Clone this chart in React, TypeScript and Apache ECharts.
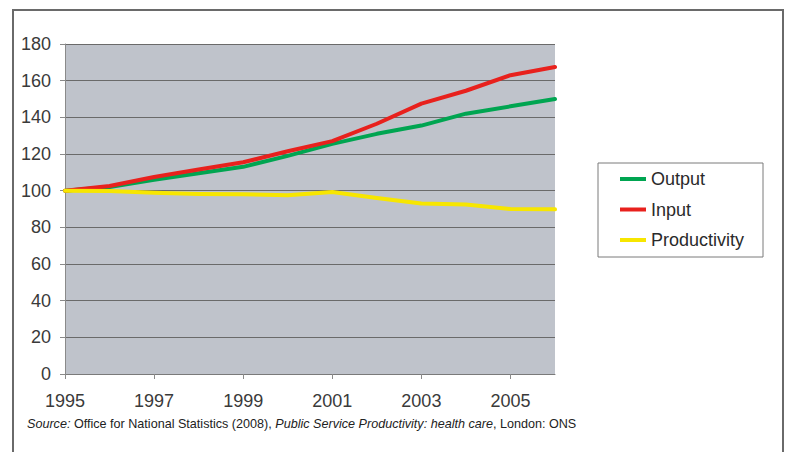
import React, { useEffect, useRef } from "react";
import * as echarts from "echarts";

const years = ["1995", "1996", "1997", "1998", "1999", "2000", "2001", "2002", "2003", "2004", "2005", "2006"];
const outputIndex = [100, 102, 106, 109.5, 113, 119, 125.5, 131, 135.5, 142, 146, 150];
const inputIndex = [100, 102.5, 107.5, 111.5, 115.5, 121.5, 127, 136.5, 147.5, 154.5, 163, 167.5];
const productivityIndex = [100, 99.8, 98.8, 98.2, 98, 97.5, 99.3, 96, 93, 92.4, 90, 89.8];

const FONT = "'Liberation Sans', Arial, sans-serif";

export default function App() {
  const ref = useRef<HTMLDivElement>(null);

  useEffect(() => {
    if (!ref.current) return;
    const chart = echarts.init(ref.current, undefined, { renderer: "svg" });
    const line = (name: string, data: number[], color: string) => ({
      name,
      type: "line",
      data,
      symbol: "none",
      lineStyle: { color, width: 4, cap: "round", join: "round" },
      itemStyle: { color },
    });
    chart.setOption({
      animation: false,
      backgroundColor: "#ffffff",
      textStyle: { fontFamily: FONT },
      grid: {
        left: 65,
        top: 44,
        right: 234,
        bottom: 78,
        show: true,
        backgroundColor: "#bfc3cb",
        borderWidth: 0,
      },
      xAxis: {
        type: "category",
        data: years,
        boundaryGap: false,
        axisLine: { show: true, lineStyle: { color: "#7a7a7a", width: 1 } },
        axisTick: { show: true, interval: 1, length: 5, lineStyle: { color: "#8a8a8a" } },
        axisLabel: { interval: 1, fontSize: 18, color: "#3a3a3a", margin: 18, fontFamily: FONT },
        splitLine: { show: false },
      },
      yAxis: {
        type: "value",
        min: 0,
        max: 180,
        interval: 20,
        axisLine: { show: true, lineStyle: { color: "#8a8a8a", width: 1 } },
        axisTick: { show: true, length: 5, lineStyle: { color: "#8a8a8a" } },
        axisLabel: { fontSize: 18, color: "#3a3a3a", margin: 14, fontFamily: FONT },
        splitLine: { show: true, lineStyle: { color: "#6a6a6a", width: 1 } },
      },
      legend: {
        orient: "vertical",
        left: 620,
        top: 170,
        padding: 0,
        icon: "rect",
        itemWidth: 26,
        itemHeight: 4,
        itemGap: 12.5,
        textStyle: { fontSize: 18, color: "#2a2a2a", fontFamily: FONT },
        data: ["Output", "Input", "Productivity"],
      },
      graphic: [
        {
          type: "rect",
          shape: { x: 598, y: 163, width: 165, height: 94 },
          style: { fill: "none", stroke: "#7a7a7a", lineWidth: 1 },
          z: 0,
        },
        {
          type: "rect",
          shape: { x: 13, y: 10, width: 770, height: 470 },
          style: { fill: "none", stroke: "#6a6a6a", lineWidth: 2 },
        },
        {
          type: "text",
          x: 27,
          y: 424,
          style: {
            text: "{i|Source:} Office for National Statistics (2008), {i|Public Service Productivity: health care}, London: ONS",
            font: `12.6px ${FONT}`,
            fill: "#222",
            verticalAlign: "middle",
            rich: {
              i: { fontStyle: "italic", fontSize: 12.6, fontFamily: FONT, fill: "#222" },
            },
          },
        },
      ],
      series: [
        line("Output", outputIndex, "#00a551"),
        line("Input", inputIndex, "#e8211d"),
        line("Productivity", productivityIndex, "#f7e600"),
      ],
    });
    return () => chart.dispose();
  }, []);

  return (
    <div
      ref={ref}
      style={{ position: "fixed", left: 0, top: 0, width: 789, height: 452 }}
    />
  );
}
